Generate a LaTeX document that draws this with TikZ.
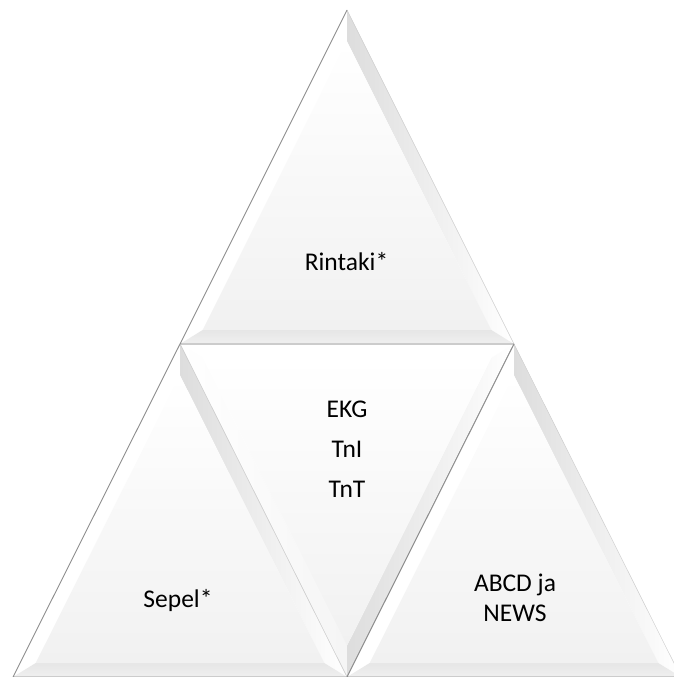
\documentclass[tikz,border=0pt]{standalone}
\usepackage{fontspec}
\setmainfont{Carlito}
\usetikzlibrary{calc}
\definecolor{edgedark}{HTML}{8E8E8E}
\definecolor{edgelight}{HTML}{CFCFCF}
\definecolor{facelow}{HTML}{F1F1F1}
\definecolor{bevgray}{HTML}{DDDDDD}
\definecolor{bevlow}{HTML}{E6E6E6}
\def\ins{0.864}
\tikzset{
  lbl/.style={font=\fontsize{25.5}{30}\selectfont,align=center,inner sep=0pt},
}
% bevelled triangle, apex up: #1 name, #2 apex, #3 base left, #4 base right
\newcommand{\uptri}[4]{%
  \coordinate (#1-a) at #2;
  \coordinate (#1-b) at #3;
  \coordinate (#1-c) at #4;
  \coordinate (#1-i) at ($0.309*(#1-a)+0.3455*(#1-b)+0.3455*(#1-c)$);
  \coordinate (#1-ia) at ($(#1-i)!\ins!(#1-a)$);
  \coordinate (#1-ib) at ($(#1-i)!\ins!(#1-b)$);
  \coordinate (#1-ic) at ($(#1-i)!\ins!(#1-c)$);
  \fill[white] (#1-a) -- (#1-b) -- (#1-ib) -- (#1-ia) -- cycle;
  \shade[left color=bevgray,right color=white] (#1-a) -- (#1-ia) -- (#1-ic) -- (#1-c) -- cycle;
  \shade[top color=bevlow,bottom color=white!94!black] (#1-b) -- (#1-c) -- (#1-ic) -- (#1-ib) -- cycle;
  \shade[top color=white,bottom color=facelow] (#1-ia) -- (#1-ib) -- (#1-ic) -- cycle;
  \draw[edgelight,line width=0.5pt] (#1-a) -- (#1-c);
  \draw[edgedark,line width=0.9pt,line join=bevel] (#1-c) -- (#1-b) -- (#1-a);
}
% bevelled triangle, apex down: #1 name, #2 top left, #3 top right, #4 bottom
\newcommand{\downtri}[4]{%
  \coordinate (#1-p) at #2;
  \coordinate (#1-q) at #3;
  \coordinate (#1-r) at #4;
  \coordinate (#1-i) at ($0.3455*(#1-p)+0.3455*(#1-q)+0.309*(#1-r)$);
  \coordinate (#1-ip) at ($(#1-i)!\ins!(#1-p)$);
  \coordinate (#1-iq) at ($(#1-i)!\ins!(#1-q)$);
  \coordinate (#1-ir) at ($(#1-i)!\ins!(#1-r)$);
  \fill[white] (#1-p) -- (#1-q) -- (#1-iq) -- (#1-ip) -- cycle;
  \shade[left color=white,right color=white!96!black] (#1-p) -- (#1-ip) -- (#1-ir) -- (#1-r) -- cycle;
  \shade[left color=bevgray,right color=white] (#1-q) -- (#1-r) -- (#1-ir) -- (#1-iq) -- cycle;
  \shade[top color=white,bottom color=facelow] (#1-ip) -- (#1-iq) -- (#1-ir) -- cycle;
  \draw[edgelight,line width=0.5pt] (#1-q) -- (#1-p) -- (#1-r);
  \draw[edgedark,line width=0.9pt] (#1-q) -- (#1-r);
}

\begin{document}
\begin{tikzpicture}[x=1pt,y=1pt]
\useasboundingbox (0,0) rectangle (674,-677);
\clip (0,0) rectangle (674,-677);

% --- middle (upside down) -------------------------------------------
\downtri{mid}{(180,-344)}{(514,-344)}{(347,-677)}

% --- top, bottom left, bottom right ---------------------------------
\uptri{top}{(347,-10)}{(180,-344)}{(514,-344)}
\uptri{lft}{(180,-344)}{(13,-677)}{(347,-677)}
\uptri{rgt}{(514,-344)}{(347,-677)}{(681,-677)}

% --- labels ----------------------------------------------------------
\node[lbl,anchor=base] (rintaki) at (346.5,-270) {Rintaki*};
\node[lbl,anchor=base] (sepel) at (178,-607) {Sepel*};
\node[lbl] (abcd) at (515,-598) {ABCD ja\\NEWS};
\node[lbl] (markers) at (347,-449) {EKG\\[10pt]TnI\\[10pt]TnT};

\end{tikzpicture}
\end{document}
